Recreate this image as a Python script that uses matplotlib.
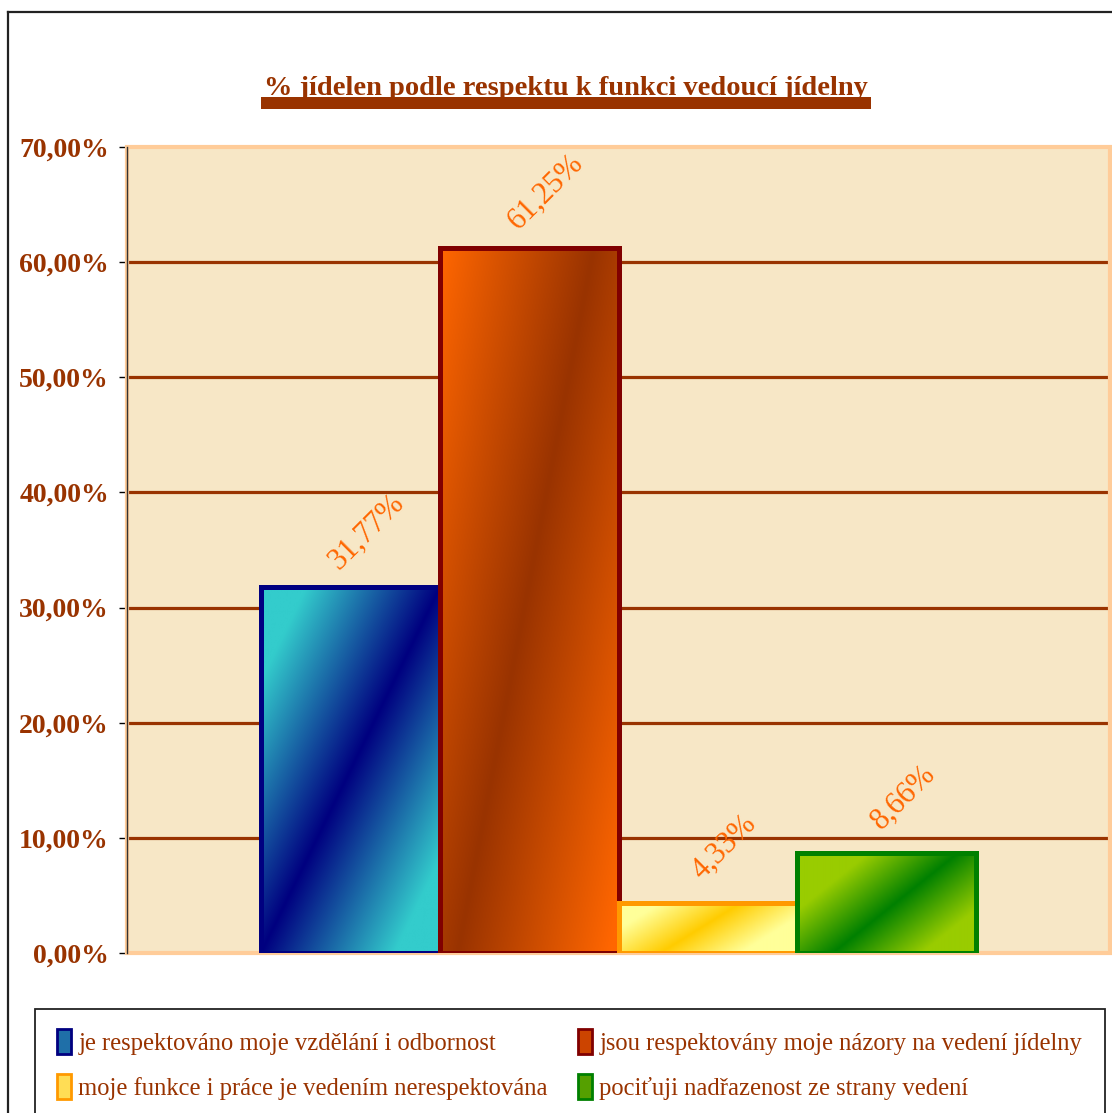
import numpy as np
import matplotlib
matplotlib.use('Agg')
import matplotlib.pyplot as plt
from matplotlib.patches import Rectangle, Patch
from matplotlib.lines import Line2D
from matplotlib.colors import to_rgb

# data
labels = ['je respektováno moje vzdělání i odbornost',
          'jsou respektovány moje názory na vedení jídelny',
          'moje funkce i práce je vedením nerespektována',
          'pociťuji nadřazenost ze strany vedení']
values = [31.77, 61.25, 4.33, 8.66]
value_text = ['31,77%', '61,25%', '4,33%', '8,66%']
yticks = [0, 10, 20, 30, 40, 50, 60, 70]
title = '% jídelen podle respektu k funkci vedoucí jídelny'

brown = '#993300'
# (dark colour, light colour, edge colour, stripe start, stripe slope, spread)
styles = [('#000080', '#33CCCC', '#000080', 0.0, 1.0, 0.75),
          ('#993300', '#FF6600', '#800000', 0.10, 0.76, 0.85),
          ('#FFCC00', '#FFFF99', '#FF9900', 0.23, 0.45, 0.45),
          ('#008000', '#99CC00', '#008000', 0.20, 0.70, 0.50)]
legend_face = ['#1F6FA8', '#CC4400', '#FFDD55', '#55A000']


def gradient(dark, light, u0, k, spread, n=200):
    u, v = np.meshgrid(np.linspace(0, 1, n), np.linspace(0, 1, n))
    t = np.clip(np.abs(u - (u0 + k * v)) / spread, 0, 1)[..., None]
    d = np.array(to_rgb(dark))
    l = np.array(to_rgb(light))
    return d + (l - d) * t


fig = plt.figure(figsize=(11.12, 11.13), dpi=100)
ax = fig.add_axes([127 / 1112, 1 - 953 / 1113, (1110 - 127) / 1112, (953 - 147) / 1113])
ax.set_facecolor('#F7E7C6')

x = np.arange(len(values)) - 1.5
bars = ax.bar(x, values, width=1.0, facecolor='none', zorder=4)
for b, st in zip(bars, styles):
    dark, light, edge, u0, k, spread = st
    b.set_edgecolor(edge)
    b.set_linewidth(3.6)
    img = gradient(dark, light, u0, k, spread)
    im = ax.imshow(img, extent=(b.get_x(), b.get_x() + b.get_width(), 0, b.get_height()),
                   origin='lower', aspect='auto', zorder=3, interpolation='bilinear')
    im.set_clip_path(b)

for b, txt in zip(bars, value_text):
    ax.annotate(txt, (b.get_x() + b.get_width() / 2, b.get_height()),
                xytext=(12, 40), textcoords='offset points', ha='center', va='center',
                rotation=45, color='#FF6600', fontsize=22, family='Liberation Serif',
                zorder=6)

ax.set_xlim(-2.75, 2.75)
ax.set_ylim(0, 70)
ax.set_yticks(yticks)
ax.set_yticklabels(['%d,00%%' % t for t in yticks], family='Liberation Serif',
                   fontweight='bold', fontsize=20, color=brown)
ax.set_xticks([])
ax.tick_params(axis='y', length=6, width=1, pad=7, color='black')
for yv in yticks[1:-1]:
    ax.axhline(yv, color=brown, lw=2.3, zorder=1)
for s in ['top', 'right', 'bottom']:
    ax.spines[s].set_visible(False)
ax.spines['left'].set_color('#333333')
ax.spines['left'].set_linewidth(1)
ax.add_patch(Rectangle((0, 0), 1, 1, transform=ax.transAxes, fill=False,
                       edgecolor='#FFCC99', lw=3, zorder=2, clip_on=False))

# title with thick underline bar
t = fig.text(566 / 1112, 1 - 95 / 1113, title, ha='center', va='baseline',
             family='Liberation Serif', fontweight='bold', fontsize=20.5, color=brown)
fig.canvas.draw()
bb = t.get_window_extent().transformed(fig.transFigure.inverted())
fig.add_artist(Rectangle((bb.x0 - 0.003, 1 - 109 / 1113), bb.width + 0.006, 12 / 1113,
                         transform=fig.transFigure, facecolor=brown, edgecolor='none'))

# outer chart frame
fig.add_artist(Line2D([8 / 1112, 8 / 1112], [0, 1 - 12 / 1113], transform=fig.transFigure,
                      color='#222222', lw=1.6))
fig.add_artist(Line2D([8 / 1112, 1], [1 - 12 / 1113, 1 - 12 / 1113], transform=fig.transFigure,
                      color='#222222', lw=1.6))

# legend box runs past the bottom edge of the picture
fig.add_artist(Rectangle((35 / 1112, -0.01), (1105 - 35) / 1112, 0.01 + 104 / 1113,
                         transform=fig.transFigure, facecolor='white', edgecolor='#222222',
                         lw=1.3))

order = [0, 2, 1, 3]
handles = [Patch(facecolor=legend_face[i], edgecolor=styles[i][2], lw=2) for i in order]
leg = fig.legend(handles, [labels[i] for i in order], ncol=2, loc='upper left',
                 bbox_to_anchor=(45 / 1112, 1 - 1017 / 1113), borderaxespad=0,
                 prop={'family': 'Liberation Serif', 'size': 17.7},
                 handlelength=0.55, handleheight=1.15, handletextpad=0.3,
                 columnspacing=1.25, labelspacing=0.8, frameon=False, borderpad=0.5)
for txt in leg.get_texts():
    txt.set_color(brown)

fig.savefig('out.png', dpi=100)
